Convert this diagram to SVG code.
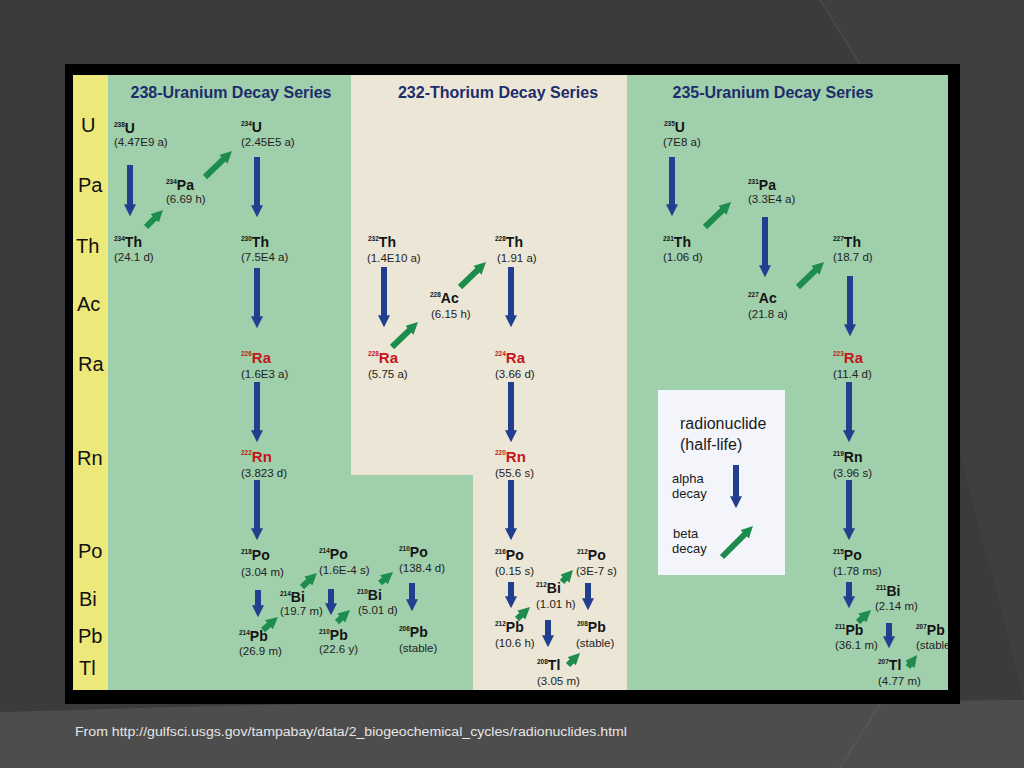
<svg xmlns="http://www.w3.org/2000/svg" width="1024" height="768" viewBox="0 0 1024 768">
<defs>
<style>
.lbl{font-family:"Liberation Sans",Arial,sans-serif;font-size:20px;fill:#111}
.ttl{font-family:"Liberation Sans",Arial,sans-serif;font-size:16px;font-weight:bold;fill:#1d2d6b}
.n{font-family:"Liberation Sans",Arial,sans-serif;font-size:14px;font-weight:bold;fill:#141414}
.r{fill:#c4161c;font-size:15px}
.s{font-size:6.5px}
.h{font-family:"Liberation Sans",Arial,sans-serif;font-size:11.5px;fill:#222}
.lg{font-family:"Liberation Sans",Arial,sans-serif;fill:#1a1a1a}
.a{stroke:#223f8f;stroke-width:6;fill:none;marker-end:url(#ha)}
.b{stroke:#1d8c4c;stroke-width:6;fill:none;marker-end:url(#hb)}
.foot{font-family:"Liberation Sans",Arial,sans-serif;font-size:12.5px;fill:#e6e6e6}
</style>
<marker id="ha" viewBox="0 0 10 10" refX="4" refY="5" markerWidth="2" markerHeight="2" orient="auto" markerUnits="strokeWidth"><path d="M0,0 L10,5 L0,10 z" fill="#223f8f"/></marker>
<marker id="hb" viewBox="0 0 10 10" refX="4" refY="5" markerWidth="2" markerHeight="2" orient="auto" markerUnits="strokeWidth"><path d="M0,0 L10,5 L0,10 z" fill="#1d8c4c"/></marker>
<clipPath id="clip"><rect x="73" y="75" width="875" height="615"/></clipPath>
</defs>
<rect width="1024" height="768" fill="#3b3b3b"/>
<path d="M820,0 L1024,0 L1024,700 L860,64 Z" fill="#3f3f3f"/>
<path d="M820,0 L860,64" stroke="#4a4a4a" stroke-width="1.5" fill="none"/>
<path d="M0,712 C150,708 350,700 520,704 L1024,700 L1024,768 L0,768 Z" fill="#4d4d4d"/>
<path d="M880,704 L840,768" stroke="#575757" stroke-width="1.5" fill="none"/>
<rect x="65" y="64" width="895" height="640" fill="#000"/>
<g clip-path="url(#clip)">
<rect x="73" y="75" width="875" height="615" fill="#a0cfab"/>
<rect x="73" y="75" width="35" height="615" fill="#ece87a"/>
<path d="M351,75 L627,75 L627,690 L473,690 L473,475 L351,475 Z" fill="#ebe6d5"/>
</g>
<g id="row-labels">
<text class="lbl" x="81" y="132">U</text>
<text class="lbl" x="78" y="192">Pa</text>
<text class="lbl" x="76" y="253">Th</text>
<text class="lbl" x="77" y="311">Ac</text>
<text class="lbl" x="78" y="371">Ra</text>
<text class="lbl" x="77" y="465">Rn</text>
<text class="lbl" x="78" y="558">Po</text>
<text class="lbl" x="79" y="606">Bi</text>
<text class="lbl" x="78" y="643">Pb</text>
<text class="lbl" x="79" y="675">Tl</text>
</g>
<g id="titles">
<text class="ttl" x="231" y="98" text-anchor="middle">238-Uranium Decay Series</text>
<text class="ttl" x="498" y="98" text-anchor="middle">232-Thorium Decay Series</text>
<text class="ttl" x="773" y="98" text-anchor="middle">235-Uranium Decay Series</text>
</g>
<g id="connectors">
<line class="a" x1="130" y1="165" x2="130" y2="209"/>
<line class="a" x1="257" y1="157" x2="257" y2="210"/>
<line class="a" x1="257" y1="268" x2="257" y2="321"/>
<line class="a" x1="257" y1="382" x2="257" y2="435"/>
<line class="a" x1="257" y1="480" x2="257" y2="533"/>
<line class="a" x1="258" y1="590" x2="258" y2="610"/>
<line class="a" x1="331" y1="589" x2="331" y2="608"/>
<line class="a" x1="412" y1="583" x2="412" y2="604"/>
<line class="a" x1="384" y1="267" x2="384" y2="320"/>
<line class="a" x1="511" y1="267" x2="511" y2="320"/>
<line class="a" x1="511" y1="382" x2="511" y2="435"/>
<line class="a" x1="511" y1="480" x2="511" y2="533"/>
<line class="a" x1="511" y1="582" x2="511" y2="601"/>
<line class="a" x1="548" y1="620" x2="548" y2="640"/>
<line class="a" x1="588" y1="583" x2="588" y2="603"/>
<line class="a" x1="672" y1="157" x2="672" y2="209"/>
<line class="a" x1="765" y1="217" x2="765" y2="270"/>
<line class="a" x1="850" y1="276" x2="850" y2="329"/>
<line class="a" x1="849" y1="382" x2="849" y2="435"/>
<line class="a" x1="849" y1="480" x2="849" y2="533"/>
<line class="a" x1="849" y1="582" x2="849" y2="601"/>
<line class="a" x1="889" y1="623" x2="889" y2="641"/>
<line class="b" x1="146" y1="227" x2="157.9" y2="215.1"/>
<line class="b" x1="205" y1="177" x2="226.8" y2="156"/>
<line class="b" x1="263" y1="630" x2="272.5" y2="621.7"/>
<line class="b" x1="302" y1="587" x2="311.7" y2="577.9"/>
<line class="b" x1="337" y1="622" x2="344.7" y2="614.9"/>
<line class="b" x1="380" y1="583" x2="387.5" y2="576.7"/>
<line class="b" x1="392" y1="347" x2="412.8" y2="327"/>
<line class="b" x1="460" y1="287" x2="480.8" y2="267"/>
<line class="b" x1="517" y1="619" x2="524.7" y2="611.9"/>
<line class="b" x1="562" y1="582" x2="568.1" y2="575.3"/>
<line class="b" x1="568" y1="665" x2="574.9" y2="658.1"/>
<line class="b" x1="705" y1="227" x2="725.8" y2="207"/>
<line class="b" x1="798" y1="287" x2="818.8" y2="267"/>
<line class="b" x1="858" y1="622" x2="865.7" y2="614.9"/>
<line class="b" x1="908" y1="667" x2="912.7" y2="660.8"/>
</g>
<g id="nodes" clip-path="url(#clip)">
<g id="n238U"><text class="n" x="114" y="133"><tspan class="s" dy="-6">238</tspan><tspan dy="6">U</tspan></text><text class="h" x="114" y="146">(4.47E9 a)</text></g>
<g id="n234Pa"><text class="n" x="166" y="190"><tspan class="s" dy="-6">234</tspan><tspan dy="6">Pa</tspan></text><text class="h" x="166" y="203">(6.69 h)</text></g>
<g id="n234U"><text class="n" x="241" y="132"><tspan class="s" dy="-6">234</tspan><tspan dy="6">U</tspan></text><text class="h" x="241" y="146">(2.45E5 a)</text></g>
<g id="n234Th"><text class="n" x="114" y="247"><tspan class="s" dy="-6">234</tspan><tspan dy="6">Th</tspan></text><text class="h" x="114" y="261">(24.1 d)</text></g>
<g id="n230Th"><text class="n" x="241" y="247"><tspan class="s" dy="-6">230</tspan><tspan dy="6">Th</tspan></text><text class="h" x="241" y="261">(7.5E4 a)</text></g>
<g id="n226Ra"><text class="n r" x="241" y="363"><tspan class="s" dy="-7">226</tspan><tspan dy="7">Ra</tspan></text><text class="h" x="241" y="378">(1.6E3 a)</text></g>
<g id="n222Rn"><text class="n r" x="241" y="462"><tspan class="s" dy="-7">222</tspan><tspan dy="7">Rn</tspan></text><text class="h" x="241" y="477">(3.823 d)</text></g>
<g id="n218Po"><text class="n" x="241" y="560"><tspan class="s" dy="-6">218</tspan><tspan dy="6">Po</tspan></text><text class="h" x="241" y="576">(3.04 m)</text></g>
<g id="n214Po"><text class="n" x="319" y="559"><tspan class="s" dy="-6">214</tspan><tspan dy="6">Po</tspan></text><text class="h" x="319" y="574">(1.6E-4 s)</text></g>
<g id="n214Bi"><text class="n" x="280" y="602"><tspan class="s" dy="-6">214</tspan><tspan dy="6">Bi</tspan></text><text class="h" x="280" y="615">(19.7 m)</text></g>
<g id="n214Pb"><text class="n" x="239" y="641"><tspan class="s" dy="-6">214</tspan><tspan dy="6">Pb</tspan></text><text class="h" x="239" y="655">(26.9 m)</text></g>
<g id="n210Po"><text class="n" x="399" y="557"><tspan class="s" dy="-6">210</tspan><tspan dy="6">Po</tspan></text><text class="h" x="399" y="572">(138.4 d)</text></g>
<g id="n210Bi"><text class="n" x="357" y="600"><tspan class="s" dy="-6">210</tspan><tspan dy="6">Bi</tspan></text><text class="h" x="358" y="614">(5.01 d)</text></g>
<g id="n210Pb"><text class="n" x="319" y="640"><tspan class="s" dy="-6">210</tspan><tspan dy="6">Pb</tspan></text><text class="h" x="319" y="653">(22.6 y)</text></g>
<g id="n206Pb"><text class="n" x="399" y="637"><tspan class="s" dy="-6">206</tspan><tspan dy="6">Pb</tspan></text><text class="h" x="399" y="652">(stable)</text></g>
<g id="n232Th"><text class="n" x="368" y="247"><tspan class="s" dy="-6">232</tspan><tspan dy="6">Th</tspan></text><text class="h" x="367" y="262">(1.4E10 a)</text></g>
<g id="n228Ac"><text class="n" x="430" y="303"><tspan class="s" dy="-6">228</tspan><tspan dy="6">Ac</tspan></text><text class="h" x="431" y="318">(6.15 h)</text></g>
<g id="n228Th"><text class="n" x="495" y="247"><tspan class="s" dy="-6">228</tspan><tspan dy="6">Th</tspan></text><text class="h" x="497" y="262">(1.91 a)</text></g>
<g id="n228Ra"><text class="n r" x="368" y="363"><tspan class="s" dy="-7">228</tspan><tspan dy="7">Ra</tspan></text><text class="h" x="368" y="378">(5.75 a)</text></g>
<g id="n224Ra"><text class="n r" x="495" y="363"><tspan class="s" dy="-7">224</tspan><tspan dy="7">Ra</tspan></text><text class="h" x="495" y="378">(3.66 d)</text></g>
<g id="n220Rn"><text class="n r" x="495" y="462"><tspan class="s" dy="-7">220</tspan><tspan dy="7">Rn</tspan></text><text class="h" x="495" y="477">(55.6 s)</text></g>
<g id="n216Po"><text class="n" x="495" y="560"><tspan class="s" dy="-6">216</tspan><tspan dy="6">Po</tspan></text><text class="h" x="495" y="575">(0.15 s)</text></g>
<g id="n212Po"><text class="n" x="577" y="560"><tspan class="s" dy="-6">212</tspan><tspan dy="6">Po</tspan></text><text class="h" x="576" y="575">(3E-7 s)</text></g>
<g id="n212Bi"><text class="n" x="536" y="593"><tspan class="s" dy="-6">212</tspan><tspan dy="6">Bi</tspan></text><text class="h" x="536" y="608">(1.01 h)</text></g>
<g id="n212Pb"><text class="n" x="495" y="632"><tspan class="s" dy="-6">212</tspan><tspan dy="6">Pb</tspan></text><text class="h" x="495" y="647">(10.6 h)</text></g>
<g id="n208Pb"><text class="n" x="577" y="632"><tspan class="s" dy="-6">208</tspan><tspan dy="6">Pb</tspan></text><text class="h" x="576" y="647">(stable)</text></g>
<g id="n208Tl"><text class="n" x="537" y="670"><tspan class="s" dy="-6">208</tspan><tspan dy="6">Tl</tspan></text><text class="h" x="537" y="685">(3.05 m)</text></g>
<g id="n235U"><text class="n" x="664" y="132"><tspan class="s" dy="-6">235</tspan><tspan dy="6">U</tspan></text><text class="h" x="663" y="146">(7E8 a)</text></g>
<g id="n231Th"><text class="n" x="663" y="247"><tspan class="s" dy="-6">231</tspan><tspan dy="6">Th</tspan></text><text class="h" x="663" y="261">(1.06 d)</text></g>
<g id="n231Pa"><text class="n" x="748" y="190"><tspan class="s" dy="-6">231</tspan><tspan dy="6">Pa</tspan></text><text class="h" x="748" y="203">(3.3E4 a)</text></g>
<g id="n227Ac"><text class="n" x="748" y="303"><tspan class="s" dy="-6">227</tspan><tspan dy="6">Ac</tspan></text><text class="h" x="748" y="318">(21.8 a)</text></g>
<g id="n227Th"><text class="n" x="833" y="247"><tspan class="s" dy="-6">227</tspan><tspan dy="6">Th</tspan></text><text class="h" x="833" y="261">(18.7 d)</text></g>
<g id="n223Ra"><text class="n r" x="833" y="363"><tspan class="s" dy="-7">223</tspan><tspan dy="7">Ra</tspan></text><text class="h" x="833" y="378">(11.4 d)</text></g>
<g id="n219Rn"><text class="n" x="833" y="462"><tspan class="s" dy="-6">219</tspan><tspan dy="6">Rn</tspan></text><text class="h" x="833" y="477">(3.96 s)</text></g>
<g id="n215Po"><text class="n" x="833" y="560"><tspan class="s" dy="-6">215</tspan><tspan dy="6">Po</tspan></text><text class="h" x="833" y="575">(1.78 ms)</text></g>
<g id="n211Bi"><text class="n" x="876" y="596"><tspan class="s" dy="-6">211</tspan><tspan dy="6">Bi</tspan></text><text class="h" x="875" y="610">(2.14 m)</text></g>
<g id="n211Pb"><text class="n" x="835" y="635"><tspan class="s" dy="-6">211</tspan><tspan dy="6">Pb</tspan></text><text class="h" x="835" y="649">(36.1 m)</text></g>
<g id="n207Pb"><text class="n" x="916" y="635"><tspan class="s" dy="-6">207</tspan><tspan dy="6">Pb</tspan></text><text class="h" x="916" y="649">(stable)</text></g>
<g id="n207Tl"><text class="n" x="878" y="670"><tspan class="s" dy="-6">207</tspan><tspan dy="6">Tl</tspan></text><text class="h" x="878" y="685">(4.77 m)</text></g>
</g>
<g id="legend">
<rect x="658" y="390" width="127" height="185" fill="#f3f5fa"/>
<text class="lg" x="680" y="429" font-size="16">radionuclide</text>
<text class="lg" x="680" y="450" font-size="16">(half-life)</text>
<text class="lg" x="672" y="483" font-size="13">alpha</text>
<text class="lg" x="672" y="498" font-size="13">decay</text>
<text class="lg" x="673" y="538" font-size="13">beta</text>
<text class="lg" x="672" y="553" font-size="13">decay</text>
<line class="a" x1="736" y1="465" x2="736" y2="501"/>
<line class="b" x1="722" y1="557" x2="747.9" y2="531.1"/>
</g>
<text class="foot" x="75" y="736" textLength="552" lengthAdjust="spacingAndGlyphs">From http://gulfsci.usgs.gov/tampabay/data/2_biogeochemical_cycles/radionuclides.html</text>
</svg>
